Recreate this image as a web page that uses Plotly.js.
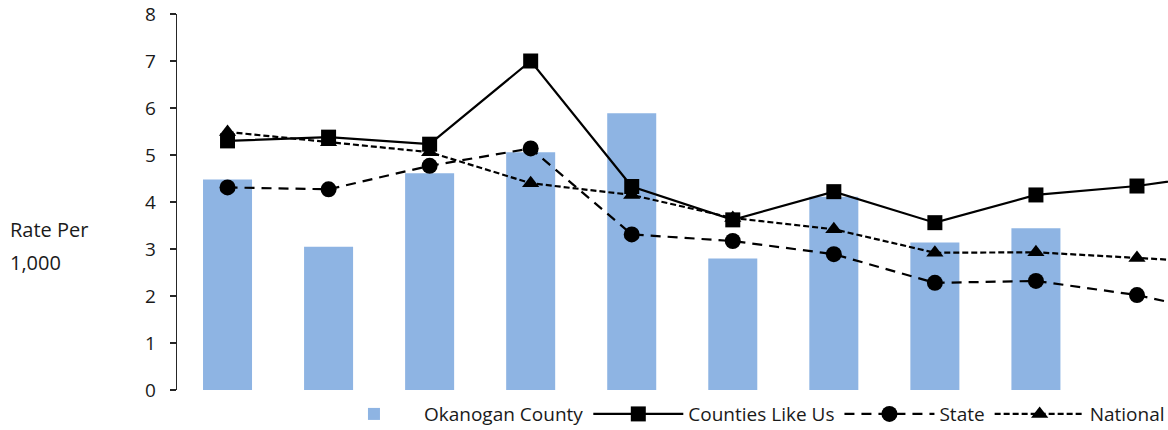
<!DOCTYPE html>
<html>
<head>
<meta charset="utf-8">
<script src="https://cdn.plot.ly/plotly-3.0.1.min.js"></script>
<style>html,body{margin:0;padding:0;background:#fff;overflow:hidden;}#chart{width:1168px;height:430px;}</style>
</head>
<body>
<div id="chart"></div>
<script>
// Periods (category labels are not shown in the reference)
const periods = ['1','2','3','4','5','6','7','8','9','10','11'];
// Okanogan County (bars)
const okanogan = [4.48, 3.05, 4.61, 5.06, 5.89, 2.80, 4.11, 3.14, 3.44, null, null];
// Counties Like Us
const countiesLikeUs = [5.30, 5.38, 5.23, 7.00, 4.33, 3.62, 4.22, 3.56, 4.15, 4.34, 4.64];
// State
const stateRate = [4.31, 4.27, 4.77, 5.14, 3.31, 3.17, 2.89, 2.28, 2.32, 2.02, 1.55];
// National
const nationalRate = [5.49, 5.27, 5.06, 4.40, 4.15, 3.66, 3.42, 2.92, 2.93, 2.81, 2.69];

const FONT = '"Open Sans", "Noto Sans", sans-serif';
const TXT = '#1a1a1a';

const traces = [
  {type:'bar', name:'Okanogan County', x:periods, y:okanogan,
   marker:{color:'#8EB4E3'}},
  {type:'scatter', mode:'lines+markers', name:'Counties Like Us', x:periods, y:countiesLikeUs,
   line:{color:'#000', width:2.2, dash:'solid'},
   marker:{symbol:'square', size:15, color:'#000'}},
  {type:'scatter', mode:'lines+markers', name:'State', x:periods, y:stateRate,
   line:{color:'#000', width:2.2, dash:'10px,7px'},
   marker:{symbol:'circle', size:16, color:'#000'}},
  {type:'scatter', mode:'lines+markers', name:'National', x:periods, y:nationalRate,
   line:{color:'#000', width:2.2, dash:'6px,3px'},
   marker:{symbol:'triangle-up', size:15, color:'#000'}}
];

const layout = {
  width:1168, height:430,
  margin:{l:177, r:0, t:14, b:40, pad:0, autoexpand:false},
  paper_bgcolor:'#fff', plot_bgcolor:'#fff',
  font:{family:FONT, size:19, color:TXT},
  bargap:0.515,
  showlegend:true,
  legend:{orientation:'h', x:0.1483, xanchor:'left', y:-0.064, yanchor:'middle',
          font:{family:FONT, size:19, color:TXT}, itemwidth:90, traceorder:'normal',
          bgcolor:'rgba(0,0,0,0)'},
  xaxis:{type:'category', categoryorder:'array', categoryarray:periods,
         range:[-0.5, 9.307], showticklabels:false, showline:false, ticks:'',
         showgrid:false, zeroline:false, fixedrange:true},
  yaxis:{range:[0,8], dtick:1, tick0:0, showline:true, linecolor:'#262626', linewidth:1.3,
         ticks:'outside', ticklen:6, tickwidth:1.3, tickcolor:'#262626',
         ticklabelstandoff:10, showgrid:false, zeroline:false,
         tickfont:{family:FONT, size:19, color:TXT}, fixedrange:true},
  annotations:[
    {text:'Rate Per', xref:'paper', yref:'paper', x:-0.171, y:(390-229)/376, xanchor:'left', yanchor:'middle',
     showarrow:false, font:{family:FONT, size:20, color:TXT}},
    {text:'1,000', xref:'paper', yref:'paper', x:-0.171, y:(390-262)/376, xanchor:'left', yanchor:'middle',
     showarrow:false, font:{family:FONT, size:20, color:TXT}}
  ]
};

Plotly.newPlot('chart', traces, layout, {staticPlot:true, displayModeBar:false});
</script>
</body>
</html>
